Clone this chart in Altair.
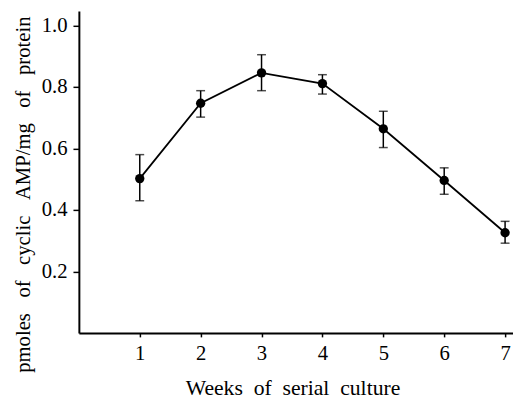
import altair as alt
import pandas as pd

weeks = [1, 2, 3, 4, 5, 6, 7]
means = [0.502, 0.747, 0.846, 0.811, 0.664, 0.496, 0.326]
upper = [0.580, 0.788, 0.905, 0.840, 0.721, 0.537, 0.363]
lower = [0.430, 0.702, 0.788, 0.777, 0.603, 0.451, 0.292]

x_ticks = [1, 2, 3, 4, 5, 6, 7]
y_ticks = [0.2, 0.4, 0.6, 0.8, 1.0]

NB = "\u00a0"
x_title = (NB * 2).join(["Weeks", "of", "serial", "culture"])
y_title = (NB * 3).join(["pmoles", "of", "cyclic", "AMP/mg", "of", "protein"])

df = pd.DataFrame({"week": weeks, "mean": means, "upper": upper, "lower": lower})

FONT = "Times New Roman, serif"

xscale = alt.Scale(domain=[0, 7.13], nice=False, zero=False)
yscale = alt.Scale(domain=[0, 1.047], nice=False, zero=False)

xaxis = alt.Axis(
    values=x_ticks, format="d", title=x_title, tickSize=4, labelPadding=6,
    titleX=217, titleY=63, titleBaseline="alphabetic", titleAlign="center",
    titleFontSize=22, labelFont=FONT, titleFont=FONT,
)
yaxis = alt.Axis(
    values=y_ticks, format=".1f", title=y_title, tickSize=6, labelPadding=6,
    titleX=-50, titleY=186, titleBaseline="alphabetic", titleAlign="center",
    titleAngle=270, titleFontSize=21, labelFont=FONT, titleFont=FONT,
)

base = alt.Chart(df)

line = base.mark_line(color="black", strokeWidth=1.8).encode(
    x=alt.X("week:Q", scale=xscale, axis=xaxis),
    y=alt.Y("mean:Q", scale=yscale, axis=yaxis),
)
rules = base.mark_rule(color="black", strokeWidth=1.5).encode(
    x="week:Q", y="lower:Q", y2="upper:Q"
)
cap_hi = base.mark_tick(color="black", orient="horizontal", size=9, thickness=1.5).encode(
    x="week:Q", y="upper:Q"
)
cap_lo = base.mark_tick(color="black", orient="horizontal", size=9, thickness=1.5).encode(
    x="week:Q", y="lower:Q"
)
points = base.mark_circle(color="black", opacity=1, size=90).encode(
    x="week:Q", y="mean:Q"
)

chart = (
    alt.layer(line, rules, cap_hi, cap_lo, points)
    .properties(
        width=441, height=327,
        autosize=alt.AutoSizeParams(type="none"),
        padding={"left": 72, "top": 0, "right": 0, "bottom": 64},
    )
    .configure(font=FONT)
    .configure_view(stroke=None)
    .configure_axis(
        grid=False, domainColor="black", domainWidth=2, tickColor="black",
        tickWidth=1.5, labelFont=FONT, labelFontSize=21, labelColor="black",
        titleFont=FONT, titleFontWeight="normal", titleColor="black",
    )
)

chart.save("out.html", embed_options={"renderer": "svg", "actions": False})
